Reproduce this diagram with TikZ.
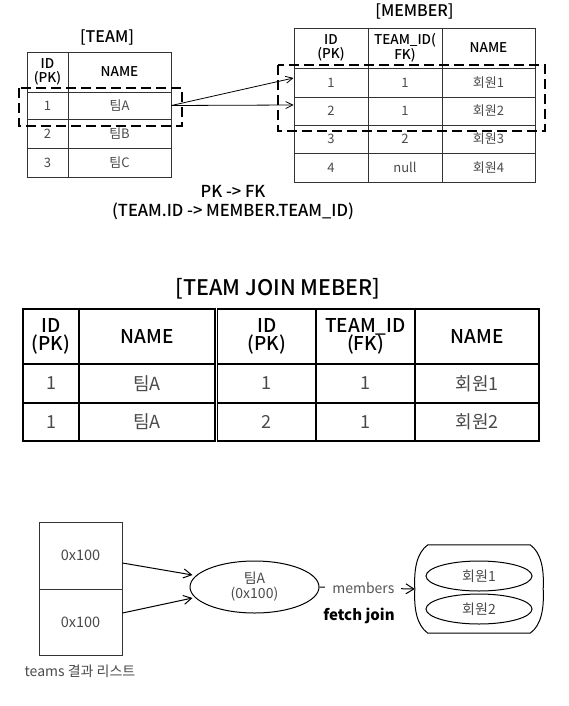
\documentclass[tikz,border=0pt]{standalone}
\usepackage{fontspec}
\setmainfont{Noto Sans CJK KR}
\newfontfamily\medfont{Noto Sans CJK KR Medium}
\usetikzlibrary{arrows.meta,shapes.geometric}
\definecolor{tline}{HTML}{333333}
\definecolor{celltxt}{HTML}{4A4A4A}
\definecolor{lbl}{HTML}{555555}
\tikzset{
  tcell/.style={draw=tline, line width=0.9pt, inner sep=0pt, align=center, font=\fontsize{13}{14}\selectfont, text=celltxt},
  thead/.style={tcell, text=black, font=\medfont\fontsize{13.5}{14.5}\selectfont},
  jcell/.style={draw=black, line width=1.3pt, inner sep=0pt, align=center, font=\fontsize{18}{19}\selectfont, text=celltxt},
  jhead/.style={jcell, text=black, font=\medfont\fontsize{19}{18.5}\selectfont},
  ttl/.style={inner sep=0pt, font=\medfont\fontsize{16}{17}\selectfont},
  selbox/.style={draw=black, line width=2.2pt, dash pattern=on 10pt off 5pt},
  fk/.style={draw=black, line width=0.8pt, -{Straight Barb[length=7pt,width=7pt]}},
  ref/.style={draw=black, line width=1pt, -{Straight Barb[length=8pt,width=9pt]}},
  lcell/.style={draw=tline, line width=1pt, inner sep=0pt, font=\fontsize{14.5}{15}\selectfont, text=celltxt},
  obj/.style={ellipse, draw=black, line width=1pt, inner sep=0pt, align=center, font=\fontsize{14}{15}\selectfont, text=celltxt}
}
\begin{document}
\begin{tikzpicture}[x=1pt,y=-1pt]
\useasboundingbox (0,0) rectangle (569,706);

% ---------- TEAM ----------
\node[ttl] (tteam) at (107,37) {[TEAM]};
\node[thead, minimum width=41pt, minimum height=40pt] (t01) at (47.5,72) {ID\\(PK)};
\node[thead, minimum width=103pt, minimum height=40pt] (t02) at (119.5,72) {NAME};
\node[tcell, minimum width=41pt, minimum height=27pt] (t11) at (47.5,105.5) {1};
\node[tcell, minimum width=103pt, minimum height=27pt] (t12) at (119.5,105.5) {팀A};
\node[tcell, minimum width=41pt, minimum height=29pt] (t21) at (47.5,133.5) {2};
\node[tcell, minimum width=103pt, minimum height=29pt] (t22) at (119.5,133.5) {팀B};
\node[tcell, minimum width=41pt, minimum height=29pt] (t31) at (47.5,162.5) {3};
\node[tcell, minimum width=103pt, minimum height=29pt] (t32) at (119.5,162.5) {팀C};

% ---------- MEMBER ----------
\node[ttl] (tmember) at (414.5,11) {[MEMBER]};
\node[thead, minimum width=74pt, minimum height=40pt] (m01) at (331,48) {ID\\(PK)};
\node[thead, minimum width=74pt, minimum height=40pt] (m02) at (405,48) {TEAM\_ID(\\FK)};
\node[thead, minimum width=93pt, minimum height=40pt] (m03) at (488.5,48) {NAME};
\node[tcell, minimum width=74pt, minimum height=29pt] (m11) at (331,82.5) {1};
\node[tcell, minimum width=74pt, minimum height=29pt] (m12) at (405,82.5) {1};
\node[tcell, minimum width=93pt, minimum height=29pt] (m13) at (488.5,82.5) {회원1};
\node[tcell, minimum width=74pt, minimum height=28pt] (m21) at (331,111) {2};
\node[tcell, minimum width=74pt, minimum height=28pt] (m22) at (405,111) {1};
\node[tcell, minimum width=93pt, minimum height=28pt] (m23) at (488.5,111) {회원2};
\node[tcell, minimum width=74pt, minimum height=28pt] (m31) at (331,139) {3};
\node[tcell, minimum width=74pt, minimum height=28pt] (m32) at (405,139) {2};
\node[tcell, minimum width=93pt, minimum height=28pt] (m33) at (488.5,139) {회원3};
\node[tcell, minimum width=74pt, minimum height=29pt] (m41) at (331,167.5) {4};
\node[tcell, minimum width=74pt, minimum height=29pt] (m42) at (405,167.5) {null};
\node[tcell, minimum width=93pt, minimum height=29pt] (m43) at (488.5,167.5) {회원4};

% selection boxes
\draw[selbox] (19,88) rectangle (182,126);
\draw[selbox] (278,65) rectangle (545,131);

% FK arrows
\draw[fk] (t12.east) -- ([yshift=4.5pt]m11.west);
\draw[fk] (t12.east) -- ([yshift=6pt]m21.west);

\node[ttl, align=center, font=\medfont\fontsize{16.5}{19}\selectfont] (pkfk) at (233,202.5) {PK -> FK\\(TEAM.ID -> MEMBER.TEAM\_ID)};

% ---------- JOIN ----------
\node[ttl, font=\medfont\fontsize{21.5}{22}\selectfont] (tjoin) at (278,289) {[TEAM JOIN MEBER]};
\node[jhead, minimum width=56pt, minimum height=55pt] (j01) at (51,336.5) {ID\\(PK)};
\node[jhead, minimum width=136pt, minimum height=55pt] (j02) at (147,336.5) {NAME};
\node[jhead, minimum width=98.5pt, minimum height=55pt] (j03) at (266.75,336.5) {ID\\(PK)};
\node[jhead, minimum width=99pt, minimum height=55pt] (j04) at (365.5,336.5) {TEAM\_ID\\(FK)};
\node[jhead, minimum width=124pt, minimum height=55pt] (j05) at (477,336.5) {NAME};
\node[jcell, minimum width=56pt, minimum height=39pt] (j11) at (51,383.5) {1};
\node[jcell, minimum width=136pt, minimum height=39pt] (j12) at (147,383.5) {팀A};
\node[jcell, minimum width=98.5pt, minimum height=39pt] (j13) at (266.75,383.5) {1};
\node[jcell, minimum width=99pt, minimum height=39pt] (j14) at (365.5,383.5) {1};
\node[jcell, minimum width=124pt, minimum height=39pt] (j15) at (477,383.5) {회원1};
\node[jcell, minimum width=56pt, minimum height=38pt] (j21) at (51,422) {1};
\node[jcell, minimum width=136pt, minimum height=38pt] (j22) at (147,422) {팀A};
\node[jcell, minimum width=98.5pt, minimum height=38pt] (j23) at (266.75,422) {2};
\node[jcell, minimum width=99pt, minimum height=38pt] (j24) at (365.5,422) {1};
\node[jcell, minimum width=124pt, minimum height=38pt] (j25) at (477,422) {회원2};

% ---------- OBJECTS ----------
\node[lcell, minimum width=83pt, minimum height=67pt] (l1) at (80.5,555.5) {0x100};
\node[lcell, minimum width=83pt, minimum height=66pt] (l2) at (80.5,622) {0x100};
\node[inner sep=0pt, text=celltxt, font=\fontsize{14}{15}\selectfont] (lcap) at (80,671) {teams 결과 리스트};

\node[obj, minimum width=129pt, minimum height=52pt] (team) at (254.5,587) {팀A\\(0x100)};

\node[minimum width=128pt, minimum height=88pt, inner sep=0pt] (coll) at (479,589) {};
\draw[line width=1pt] ([xshift=13pt]coll.north west) -- ([xshift=-13pt]coll.north east)
  .. controls ([xshift=-2pt,yshift=-8pt]coll.north east) and ([xshift=1pt,yshift=20pt]coll.east) .. (coll.east)
  .. controls ([xshift=1pt,yshift=-20pt]coll.east) and ([xshift=-2pt,yshift=8pt]coll.south east) .. ([xshift=-13pt]coll.south east)
  -- ([xshift=13pt]coll.south west)
  .. controls ([xshift=2pt,yshift=8pt]coll.south west) and ([xshift=-1pt,yshift=-20pt]coll.west) .. (coll.west)
  .. controls ([xshift=-1pt,yshift=20pt]coll.west) and ([xshift=2pt,yshift=-8pt]coll.north west) .. ([xshift=13pt]coll.north west);
\node[obj, minimum width=106pt, minimum height=30pt] (mem1) at (479,576) {회원1};
\node[obj, minimum width=106pt, minimum height=30pt] (mem2) at (479,609) {회원2};

\draw[ref] ([yshift=-7.5pt]l1.east) -- ([shift={(3pt,12pt)}]team.west);
\draw[ref] ([yshift=9pt]l2.east) -- ([shift={(3pt,-11pt)}]team.west);
\draw[draw=black, line width=1pt, -{Straight Barb[length=8pt,width=10pt]}] (team.east) -- node[pos=0.46, fill=white, inner xsep=7pt, inner ysep=1pt, text=lbl, font=\fontsize{14}{15}\selectfont] (mlbl) {members} (coll.west);
\node[inner sep=0pt, font=\bfseries\fontsize{15}{16}\selectfont] (fj) at (359,616) {fetch join};
\end{tikzpicture}
\end{document}
